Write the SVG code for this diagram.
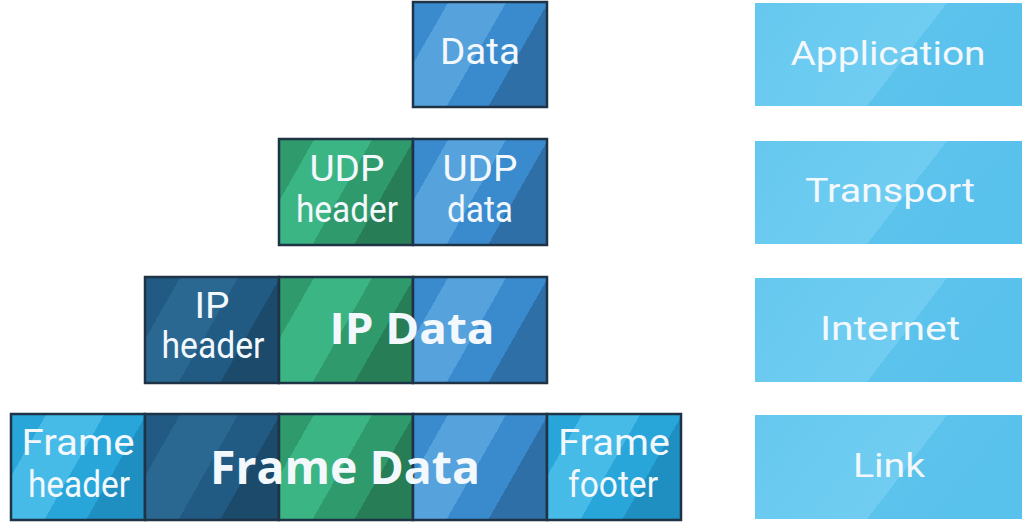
<svg xmlns="http://www.w3.org/2000/svg" width="1024" height="525" viewBox="0 0 1024 525">
<defs>
<linearGradient id="gBlue" x1="0" y1="0" x2="1" y2="0.45">
<stop offset="0" stop-color="#3a8bcd"/><stop offset="0.22" stop-color="#3a8bcd"/><stop offset="0.22" stop-color="#56a2dc"/><stop offset="0.58" stop-color="#56a2dc"/><stop offset="0.58" stop-color="#3a8bcd"/><stop offset="0.84" stop-color="#3a8bcd"/><stop offset="0.84" stop-color="#2d6fa6"/><stop offset="1" stop-color="#2d6fa6"/>
</linearGradient>
<linearGradient id="gGreen" x1="0" y1="0" x2="1" y2="0.45">
<stop offset="0" stop-color="#2f9a6c"/><stop offset="0.22" stop-color="#2f9a6c"/><stop offset="0.22" stop-color="#3bb583"/><stop offset="0.58" stop-color="#3bb583"/><stop offset="0.58" stop-color="#2f9a6c"/><stop offset="0.84" stop-color="#2f9a6c"/><stop offset="0.84" stop-color="#277d56"/><stop offset="1" stop-color="#277d56"/>
</linearGradient>
<linearGradient id="gDark" x1="0" y1="0" x2="1" y2="0.45">
<stop offset="0" stop-color="#215b84"/><stop offset="0.22" stop-color="#215b84"/><stop offset="0.22" stop-color="#2a6892"/><stop offset="0.58" stop-color="#2a6892"/><stop offset="0.58" stop-color="#215b84"/><stop offset="0.84" stop-color="#215b84"/><stop offset="0.84" stop-color="#1b4a6b"/><stop offset="1" stop-color="#1b4a6b"/>
</linearGradient>
<linearGradient id="gCyan" x1="0" y1="0" x2="1" y2="0.45">
<stop offset="0" stop-color="#28a6da"/><stop offset="0.22" stop-color="#28a6da"/><stop offset="0.22" stop-color="#46bbe8"/><stop offset="0.58" stop-color="#46bbe8"/><stop offset="0.58" stop-color="#28a6da"/><stop offset="0.84" stop-color="#28a6da"/><stop offset="0.84" stop-color="#1f8fc2"/><stop offset="1" stop-color="#1f8fc2"/>
</linearGradient>
<linearGradient id="gApp" x1="0" y1="0" x2="1" y2="0.3">
<stop offset="0" stop-color="#66c8ef"/><stop offset="0.66" stop-color="#70cdf1"/><stop offset="0.66" stop-color="#5cc3ed"/><stop offset="1" stop-color="#58c1ec"/>
</linearGradient>
</defs>
<style>
.b{stroke:#1e3346;stroke-width:2.5}
.blue{fill:url(#gBlue)} .green{fill:url(#gGreen)} .dark{fill:url(#gDark)} .cyan{fill:url(#gCyan)} .app{fill:url(#gApp)}
text{font-family:Roboto,"Liberation Sans",sans-serif;fill:#f3f8fc;text-anchor:middle}
.t{font-size:36px}
.l{font-size:34px}
.big{font-family:"Open Sans","Liberation Sans",sans-serif;font-weight:700}
</style>
<rect width="1024" height="525" fill="#ffffff"/>

<g id="layer-application">
<rect x="755" y="3" width="267" height="103" class="app"/>
<text x="888" y="65" class="l" textLength="195" lengthAdjust="spacingAndGlyphs">Application</text>
</g>
<g id="layer-transport">
<rect x="755" y="141" width="267" height="103" class="app"/>
<text x="890" y="202" class="l" textLength="170" lengthAdjust="spacingAndGlyphs">Transport</text>
</g>
<g id="layer-internet">
<rect x="755" y="278" width="267" height="104" class="app"/>
<text x="890" y="340" class="l" textLength="140" lengthAdjust="spacingAndGlyphs">Internet</text>
</g>
<g id="layer-link">
<rect x="755" y="415" width="267" height="104" class="app"/>
<text x="889" y="477" class="l" textLength="72" lengthAdjust="spacingAndGlyphs">Link</text>
</g>

<g id="row-data">
<rect x="413" y="2" width="134" height="105" class="b blue"/>
<text x="480" y="64" class="t" textLength="80" lengthAdjust="spacingAndGlyphs">Data</text>
</g>

<g id="row-udp">
<rect x="279" y="139" width="134" height="106" class="b green"/>
<rect x="413" y="139" width="134" height="106" class="b blue"/>
<text x="347" y="181" class="t" textLength="75" lengthAdjust="spacingAndGlyphs">UDP</text>
<text x="347" y="222" class="t" textLength="102" lengthAdjust="spacingAndGlyphs">header</text>
<text x="480" y="181" class="t" textLength="75" lengthAdjust="spacingAndGlyphs">UDP</text>
<text x="480" y="222" class="t" textLength="66" lengthAdjust="spacingAndGlyphs">data</text>
</g>

<g id="row-ip">
<rect x="145" y="277" width="134" height="106" class="b dark"/>
<rect x="279" y="277" width="134" height="106" class="b green"/>
<rect x="413" y="277" width="134" height="106" class="b blue"/>
<text x="212" y="318" class="t" textLength="35" lengthAdjust="spacingAndGlyphs">IP</text>
<text x="213" y="358" class="t" textLength="103" lengthAdjust="spacingAndGlyphs">header</text>
<text x="412" y="344" class="big" font-size="43" textLength="165" lengthAdjust="spacingAndGlyphs">IP Data</text>
</g>

<g id="row-frame">
<rect x="11" y="414" width="134" height="106" class="b cyan"/>
<rect x="145" y="414" width="134" height="106" class="b dark"/>
<rect x="279" y="414" width="134" height="106" class="b green"/>
<rect x="413" y="414" width="134" height="106" class="b blue"/>
<rect x="547" y="414" width="134" height="106" class="b cyan"/>
<text x="78" y="455" class="t" textLength="113" lengthAdjust="spacingAndGlyphs">Frame</text>
<text x="79" y="497" class="t" textLength="102" lengthAdjust="spacingAndGlyphs">header</text>
<text x="345" y="484" class="big" font-size="46" textLength="270" lengthAdjust="spacingAndGlyphs">Frame Data</text>
<text x="614" y="455" class="t" textLength="112" lengthAdjust="spacingAndGlyphs">Frame</text>
<text x="613" y="497" class="t" textLength="90" lengthAdjust="spacingAndGlyphs">footer</text>
</g>
<g id="connectors"/>
</svg>
